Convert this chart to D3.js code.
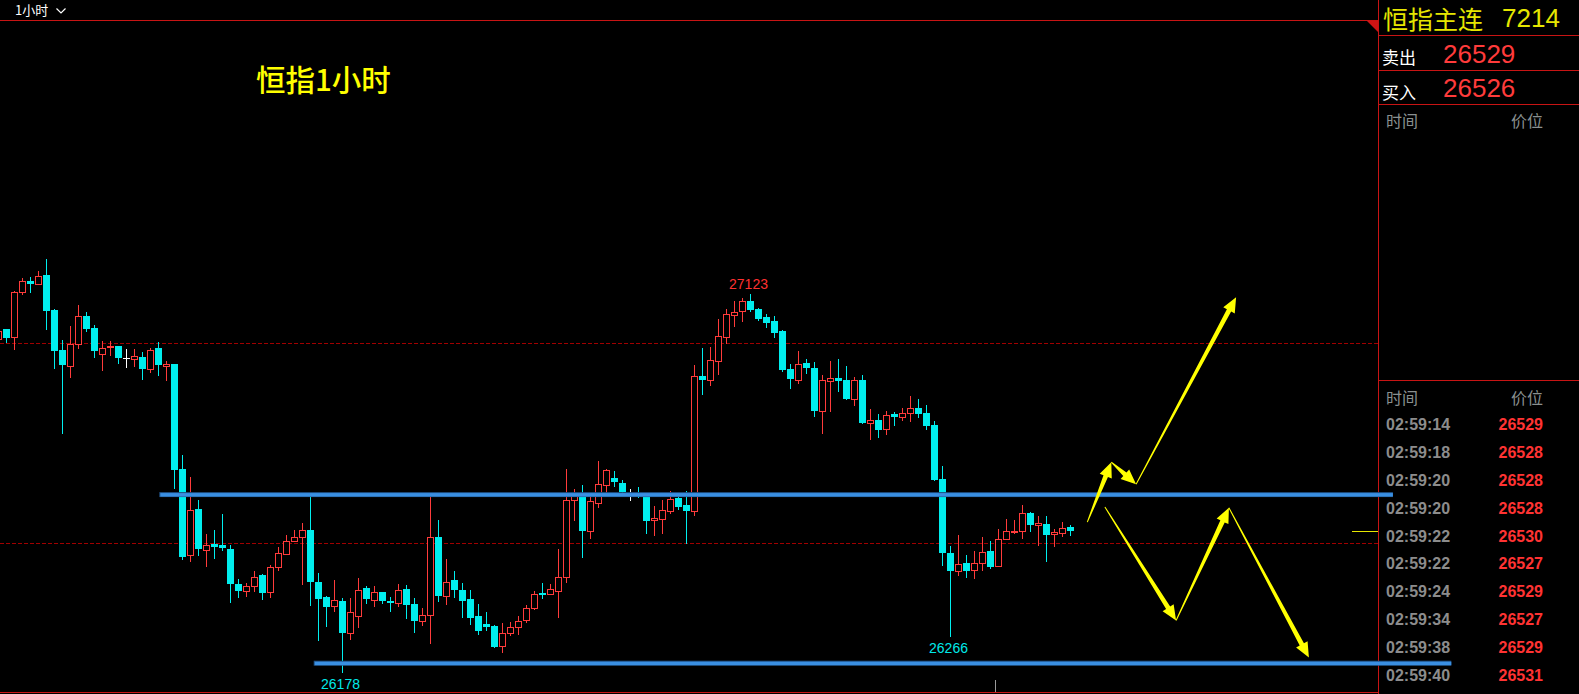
<!DOCTYPE html>
<html><head><meta charset="utf-8">
<script src="https://cdn.jsdelivr.net/npm/d3@7"></script>
<style>html,body{margin:0;padding:0;background:#000;overflow:hidden}</style>
</head><body><svg id="c" width="1579" height="694"></svg>
<script>
// ---- data (1-hour candles, HSI continuous) ----
const opens  = [27011,27035,27016,27129,27155,27149,27171,27083,26983,26943,26999,27068,27038,26974,26991,26994,26963,26961,26965,26936,26988,26943,26948,26684,26470,26584,26482,26497,26494,26484,26396,26379,26392,26419,26377,26440,26472,26505,26515,26532,26402,26364,26343,26354,26274,26317,26386,26358,26376,26354,26349,26384,26346,26304,26319,26516,26367,26406,26381,26359,26316,26296,26291,26242,26274,26289,26307,26337,26374,26372,26379,26414,26608,26615,26530,26600,26646,26662,26649,26626,26624,26617,26557,26560,26580,26612,26594,26580,26918,26908,26956,27016,27071,27081,27105,27085,27065,27055,27030,26935,26909,26950,26938,26831,26906,26912,26908,26861,26908,26799,26807,26785,26822,26815,26826,26837,26825,26795,26659,26476,26430,26451,26432,26451,26479,26442,26510,26527,26531,26574,26545,26547,26522,26525,26539];
const highs  = [27033,27035,27131,27163,27166,27181,27211,27085,27008,27043,27095,27078,27045,27005,27005,26994,26986,26985,26978,26988,27003,26955,26948,26720,26664,26607,26522,26532,26572,26494,26409,26399,26429,26422,26444,26491,26519,26532,26549,26618,26426,26367,26406,26362,26361,26411,26391,26391,26376,26364,26396,26394,26361,26336,26617,26557,26459,26429,26399,26381,26346,26326,26294,26299,26303,26316,26344,26380,26399,26398,26486,26684,26634,26644,26617,26705,26684,26679,26657,26634,26639,26622,26592,26607,26629,26616,26629,26945,26988,26990,27060,27085,27105,27113,27123,27088,27073,27068,27033,26948,26980,26960,26953,26920,26955,26960,26943,26915,26920,26835,26822,26830,26828,26837,26867,26860,26845,26805,26692,26493,26519,26471,26479,26516,26504,26534,26559,26557,26594,26577,26567,26567,26534,26552,26544];
const lows   = [27003,27004,26986,27122,27129,27149,27035,26938,26775,26916,26989,27031,26966,26933,26971,26951,26941,26943,26911,26928,26921,26908,26638,26461,26455,26470,26442,26462,26482,26352,26364,26367,26379,26359,26364,26432,26472,26505,26396,26344,26256,26292,26329,26178,26259,26289,26349,26342,26349,26329,26342,26312,26277,26294,26249,26354,26347,26364,26314,26297,26272,26282,26239,26227,26269,26272,26302,26334,26362,26372,26314,26401,26557,26466,26512,26590,26625,26642,26624,26607,26614,26525,26520,26525,26576,26585,26500,26570,26872,26895,26923,27001,27044,27055,27081,27059,27041,27016,26930,26888,26901,26925,26818,26775,26831,26880,26860,26846,26800,26760,26765,26773,26795,26808,26805,26815,26785,26658,26445,26266,26420,26415,26412,26432,26437,26442,26510,26525,26512,26530,26494,26456,26492,26517,26520];
const closes = [27030,27014,27127,27155,27149,27167,27081,26981,26946,26997,27067,27036,26981,26989,26994,26963,26963,26967,26936,26984,26946,26948,26682,26466,26582,26484,26496,26491,26487,26396,26379,26393,26416,26374,26439,26476,26506,26516,26532,26402,26359,26339,26356,26274,26328,26383,26359,26378,26354,26349,26381,26344,26304,26320,26516,26367,26403,26382,26354,26312,26279,26289,26239,26275,26290,26305,26338,26373,26369,26385,26414,26608,26617,26530,26604,26647,26682,26652,26627,26626,26617,26555,26562,26582,26609,26590,26580,26918,26908,26959,27018,27073,27078,27105,27083,27061,27051,27026,26933,26910,26949,26938,26830,26908,26914,26906,26860,26907,26800,26807,26783,26820,26815,26826,26837,26823,26792,26658,26475,26430,26448,26431,26451,26478,26440,26511,26531,26531,26576,26545,26549,26520,26527,26537,26530];

// reference levels (price) and their extent in bar units
const dashedLevels = [27000, 26500];
const blueLevels   = [26621, 26199];
const blueStart    = [20.1, 39.4];
const blueEnd      = [174.3, 181.6];
const currentPrice = 26529;

// extreme labels: [bar index, price, "high"/"low"]
const extremeLabels = [[94, 27123, "high"], [119, 26266, "low"], [43, 26178, "low"]];

// forecast arrows as polylines of [bar index, price]
const arrowUp   = [[136.1, 26552], [139.1, 26702], [142.2, 26647], [154.7, 27115]];
const arrowDown = [[138.3, 26590], [147.2, 26306], [153.8, 26588], [163.8, 26213]];

// side panel texts
const instrument = "恒指主连", instrumentCode = "7214";
const askLabel = "卖出", askPrice = "26529";
const bidLabel = "买入", bidPrice = "26526";
const tickTimes  = ["02:59:14","02:59:18","02:59:20","02:59:20","02:59:22","02:59:22","02:59:24","02:59:34","02:59:38","02:59:40"];
const tickPrices = ["26529","26528","26528","26528","26530","26527","26529","26527","26529","26531"];
const title = "恒指1小时", period = "1小时";

// ---- drawing ----
const W = 1579, H = 694, PX = 1378;
const svg = d3.select("#c");
svg.append("rect").attr("width", W).attr("height", H).attr("fill", "#000");

const x = d3.scaleLinear().domain([0, 134]).range([-1.5, 1070.5]);
const y = d3.scaleLinear().domain([26178, 27123]).range([671.6, 294]);

const UP = "#ff3b3b", DN = "#00eeee";
const CJK = "'Noto Sans CJK SC', sans-serif";
const LAT = "'Liberation Sans', Arial, sans-serif";

// frame
svg.append("line").attr("x1", 0).attr("x2", PX).attr("y1", 20.5).attr("y2", 20.5).attr("stroke", "#c81414");
svg.append("line").attr("x1", 0).attr("x2", PX).attr("y1", 692.5).attr("y2", 692.5).attr("stroke", "#c81414");
svg.append("line").attr("x1", PX + 0.5).attr("x2", PX + 0.5).attr("y1", 0).attr("y2", H).attr("stroke", "#c81414");
svg.append("path").attr("d", `M${PX - 11.5},20.5 L${PX},20.5 L${PX},32 Z`).attr("fill", "#d01414");

// top-left period selector
svg.append("text").attr("x", 15).attr("y", 15).attr("fill", "#fff").attr("font-family", CJK).attr("font-size", 13).text(period);
svg.append("path").attr("d", "M56.5,8.5 L61,13 L65.5,8.5").attr("fill", "none").attr("stroke", "#fff").attr("stroke-width", 1.2);

// title
svg.append("text").attr("x", 256).attr("y", 91).attr("fill", "#ffff00").attr("font-family", CJK)
  .attr("font-size", 29.5).attr("font-weight", 500).text(title);

// dashed levels
const chart = svg.append("g");
chart.selectAll("line.dash").data(dashedLevels).join("line")
  .attr("x1", 0).attr("x2", PX).attr("y1", d => Math.round(y(d)) + 0.5).attr("y2", d => Math.round(y(d)) + 0.5)
  .attr("stroke", "#a00000").attr("stroke-dasharray", "4,2");

// candles
const idx = d3.range(opens.length);
const color = i => closes[i] > opens[i] ? UP : (closes[i] < opens[i] ? DN : "#ffffff");
const cg = chart.append("g");
cg.selectAll("line.wick").data(idx).join("line")
  .attr("x1", i => x(i)).attr("x2", i => x(i))
  .attr("y1", i => Math.round(y(highs[i]))).attr("y2", i => Math.round(y(lows[i])) + 1)
  .attr("stroke", color).attr("stroke-width", 1);
cg.selectAll("rect.body").data(idx).join("rect")
  .attr("x", i => closes[i] > opens[i] ? x(i) - 3 : x(i) - 3.5)
  .attr("width", i => closes[i] > opens[i] ? 6 : 7)
  .attr("y", i => {
    if (closes[i] > opens[i]) return Math.round(y(closes[i])) + 0.5;
    return Math.round(y(Math.max(opens[i], closes[i])));
  })
  .attr("height", i => {
    const a = Math.round(y(Math.max(opens[i], closes[i]))), b = Math.round(y(Math.min(opens[i], closes[i])));
    return Math.max(1, b - a);
  })
  .attr("fill", i => closes[i] > opens[i] ? "#000" : color(i))
  .attr("stroke", i => closes[i] > opens[i] ? UP : "none")
  .attr("stroke-width", 1);

// blue support / resistance lines
blueLevels.forEach((p, k) => {
  const yy = y(p);
  svg.append("rect").attr("x", x(blueStart[k])).attr("width", x(blueEnd[k]) - x(blueStart[k]))
    .attr("y", yy - 2.5).attr("height", 5).attr("fill", "#1f4f82");
  svg.append("rect").attr("x", x(blueStart[k]) + 1).attr("width", x(blueEnd[k]) - x(blueStart[k]) - 1)
    .attr("y", yy - 1.5).attr("height", 3.5).attr("fill", "#3a8fe2");
});

// extreme labels
extremeLabels.forEach(([i, p, kind]) => {
  const hi = kind === "high";
  svg.append("text").attr("x", x(i) - 2).attr("y", hi ? y(p) - 5 : y(p) + 17)
    .attr("text-anchor", "middle").attr("font-family", LAT).attr("font-size", 14)
    .attr("fill", hi ? "#ff3030" : "#00eaea").text(String(p));
});

// arrows
function arrow(p0, p1) {
  const [x0, y0] = p0, [x1, y1] = p1;
  const dx = x1 - x0, dy = y1 - y0, L = Math.hypot(dx, dy);
  const ux = dx / L, uy = dy / L, nx = -uy, ny = ux;
  const hl = 15, hw = 6.5, w0 = 0.5, w1 = 2.4;
  const bx = x1 - ux * hl, by = y1 - uy * hl;
  const pts = [
    [x0 + nx * w0, y0 + ny * w0], [bx + nx * w1, by + ny * w1], [bx + nx * hw, by + ny * hw],
    [x1, y1], [bx - nx * hw, by - ny * hw], [bx - nx * w1, by - ny * w1], [x0 - nx * w0, y0 - ny * w0]
  ];
  svg.append("path").attr("d", d3.line()(pts) + "Z").attr("fill", "#ffff00");
}
[arrowUp, arrowDown].forEach(seq => {
  const px = seq.map(([i, p]) => [x(i), y(p)]);
  for (let k = 0; k < px.length - 1; k++) arrow(px[k], px[k + 1]);
});

// current price marker
svg.append("line").attr("x1", 1352).attr("x2", PX).attr("y1", Math.round(y(currentPrice)) + 0.5).attr("y2", Math.round(y(currentPrice)) + 0.5)
  .attr("stroke", "#e6e600");
// time tick at bottom
svg.append("line").attr("x1", 995.5).attr("x2", 995.5).attr("y1", 680).attr("y2", 692).attr("stroke", "#9a9a9a");

// ---- side panel ----
const P0 = PX + 1;
[35.5, 70.5, 104.5, 380.5].forEach(yy =>
  svg.append("line").attr("x1", P0).attr("x2", W).attr("y1", yy).attr("y2", yy).attr("stroke", "#c81414"));
svg.append("text").attr("x", 1383).attr("y", 29).attr("fill", "#e6e600").attr("font-family", CJK).attr("font-size", 25).text(instrument);
svg.append("text").attr("x", 1502).attr("y", 27).attr("fill", "#e6e600").attr("font-family", LAT).attr("font-size", 26).text(instrumentCode);
svg.append("text").attr("x", 1382).attr("y", 64).attr("fill", "#fff").attr("font-family", CJK).attr("font-size", 17).text(askLabel);
svg.append("text").attr("x", 1443).attr("y", 63).attr("fill", "#ff3b3b").attr("font-family", LAT).attr("font-size", 26).text(askPrice);
svg.append("text").attr("x", 1382).attr("y", 99).attr("fill", "#fff").attr("font-family", CJK).attr("font-size", 17).text(bidLabel);
svg.append("text").attr("x", 1443).attr("y", 97).attr("fill", "#ff3b3b").attr("font-family", LAT).attr("font-size", 26).text(bidPrice);
[127, 404].forEach(yy => {
  svg.append("text").attr("x", 1386).attr("y", yy).attr("fill", "#8a9090").attr("font-family", CJK).attr("font-size", 16).text("时间");
  svg.append("text").attr("x", 1511).attr("y", yy).attr("fill", "#8a9090").attr("font-family", CJK).attr("font-size", 16).text("价位");
});
const rowY = d3.scaleLinear().domain([0, 9]).range([430, 681]);
svg.selectAll("text.tt").data(tickTimes).join("text")
  .attr("x", 1386).attr("y", (d, i) => rowY(i)).attr("fill", "#8c8c8c").attr("font-family", LAT)
  .attr("font-weight", "bold").attr("font-size", 16).text(d => d);
svg.selectAll("text.tp").data(tickPrices).join("text")
  .attr("x", 1543).attr("y", (d, i) => rowY(i)).attr("text-anchor", "end").attr("fill", "#ff3333").attr("font-family", LAT)
  .attr("font-weight", "bold").attr("font-size", 16).text(d => d);
</script>
</body></html>
